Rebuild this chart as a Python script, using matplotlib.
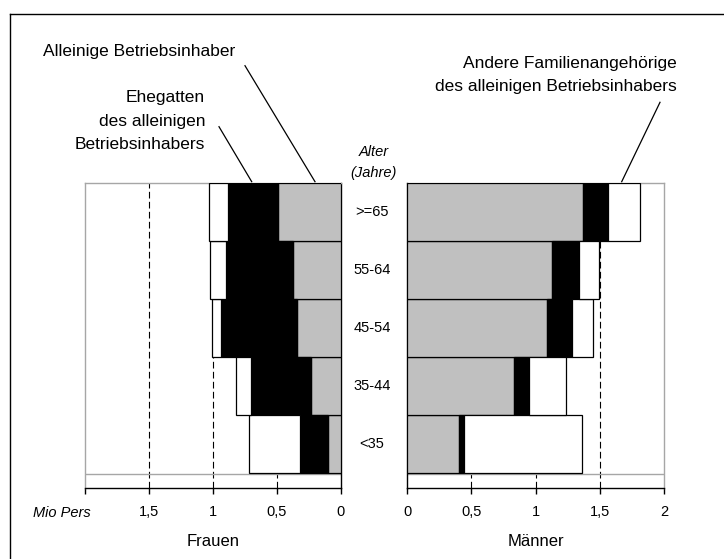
import matplotlib
matplotlib.use("Agg")
import matplotlib.pyplot as plt
from matplotlib.lines import Line2D
from matplotlib.transforms import blended_transform_factory
import numpy as np

plt.rcParams['font.family'] = ['Liberation Sans', 'DejaVu Sans']

# ---- data (bottom to top) ----
age_groups = ['<35', '35-44', '45-54', '55-64', '>=65']
# Frauen (Mio Pers)
inhaber_f = [0.10, 0.23, 0.34, 0.37, 0.49]
ehegatten_f = [0.22, 0.47, 0.60, 0.53, 0.39]
andere_f = [0.40, 0.12, 0.07, 0.12, 0.15]
# Männer (Mio Pers)
inhaber_m = [0.40, 0.83, 1.09, 1.13, 1.37]
ehegatten_m = [0.04, 0.12, 0.19, 0.21, 0.19]
andere_m = [0.92, 0.29, 0.17, 0.15, 0.25]

tick_vals = [0, 0.5, 1, 1.5, 2]
tick_labels_f = ['0', '0,5', '1', '1,5', '']
tick_labels_m = ['0', '0,5', '1', '1,5', '2']

W, H = 724, 559
fig = plt.figure(figsize=(W / 100, H / 100), dpi=100)

def fx(px):
    return px / W

def fy(py):
    return 1 - py / H

ax_l = fig.add_axes([fx(85), fy(488), fx(340.7) - fx(85), fy(182.7) - fy(488)])
ax_r = fig.add_axes([fx(407.3), fy(488), fx(664) - fx(407.3), fy(182.7) - fy(488)])

gray = '#c0c0c0'
spine_gray = '#a6a6a6'
ybot = -(488 - 472.7) / 58.0

def draw(ax, inh, ehe, andr, labels, inverted):
    y = np.arange(len(age_groups))
    inh = np.array(inh); ehe = np.array(ehe); andr = np.array(andr)
    kw = dict(height=1.0, align='edge', edgecolor='black', linewidth=0.9, zorder=3)
    ax.barh(y, inh, left=0, color=gray, **kw)
    ax.barh(y, ehe, left=inh, color='black', **kw)
    ax.barh(y, andr, left=inh + ehe, color='white', **kw)
    for v in [0.5, 1.0, 1.5]:
        ax.axvline(v, color='black', linewidth=0.8, linestyle=(0, (6, 3)), zorder=1)
    ax.axhline(-0.02, color=spine_gray, linewidth=1.0, zorder=2)
    ax.set_ylim(ybot, len(age_groups))
    if inverted:
        ax.set_xlim(2, 0)
        ax.spines['left'].set_color(spine_gray)
        ax.spines['right'].set_color('black')
    else:
        ax.set_xlim(0, 2)
        ax.spines['right'].set_color(spine_gray)
        ax.spines['left'].set_color('black')
    ax.spines['top'].set_color(spine_gray)
    ax.spines['bottom'].set_color('black')
    for s in ax.spines.values():
        s.set_linewidth(1.0)
    ax.set_yticks([])
    ax.set_xticks(tick_vals)
    ax.set_xticklabels(labels, fontsize=10.5)
    ax.tick_params(axis='x', direction='out', length=4, width=1.0, pad=8)

draw(ax_l, inhaber_f, ehegatten_f, andere_f, tick_labels_f, True)
draw(ax_r, inhaber_m, ehegatten_m, andere_m, tick_labels_m, False)

# age labels between the panels
tr = blended_transform_factory(fig.transFigure, ax_l.transData)
for i, lab in enumerate(age_groups):
    fig.text(fx(372), i + 0.5, lab, transform=tr, ha='center', va='center', fontsize=10.5)

fig.text(fx(374), fy(156), 'Alter', ha='center', va='baseline', fontsize=10.5, style='italic')
fig.text(fx(374), fy(176.7), '(Jahre)', ha='center', va='baseline', fontsize=10.5, style='italic')

# axis captions
fig.text(fx(90.7), fy(517), 'Mio Pers', ha='right', va='baseline', fontsize=10.5, style='italic')
fig.text(fx(212.8), fy(546.5), 'Frauen', ha='center', va='baseline', fontsize=12)
fig.text(fx(535.7), fy(546.5), 'Männer', ha='center', va='baseline', fontsize=12)

# annotations
fs_ann = 12.5
fig.text(fx(43), fy(56.3), 'Alleinige Betriebsinhaber', ha='left', va='baseline', fontsize=fs_ann)
for txt, yb in [('Ehegatten', 102.3), ('des alleinigen', 125.7), ('Betriebsinhabers', 149)]:
    fig.text(fx(205), fy(yb), txt, ha='right', va='baseline', fontsize=fs_ann)
for txt, yb in [('Andere Familienangehörige', 67.7), ('des alleinigen Betriebsinhabers', 91)]:
    fig.text(fx(676.7), fy(yb), txt, ha='right', va='baseline', fontsize=fs_ann)

# leader lines
for (x0, y0, x1, y1) in [(245, 65.7, 315, 181.7), (219, 126.7, 251.7, 181.7), (660, 102.3, 621.7, 181.7)]:
    fig.add_artist(Line2D([fx(x0), fx(x1)], [fy(y0), fy(y1)], color='black', linewidth=0.9))

# outer border (left and top visible)
fig.add_artist(Line2D([fx(9.5), fx(9.5)], [0, fy(14)], color='black', linewidth=1.0))
fig.add_artist(Line2D([fx(9.5), 1], [fy(14), fy(14)], color='black', linewidth=1.0))

fig.savefig('out.png', dpi=100)
